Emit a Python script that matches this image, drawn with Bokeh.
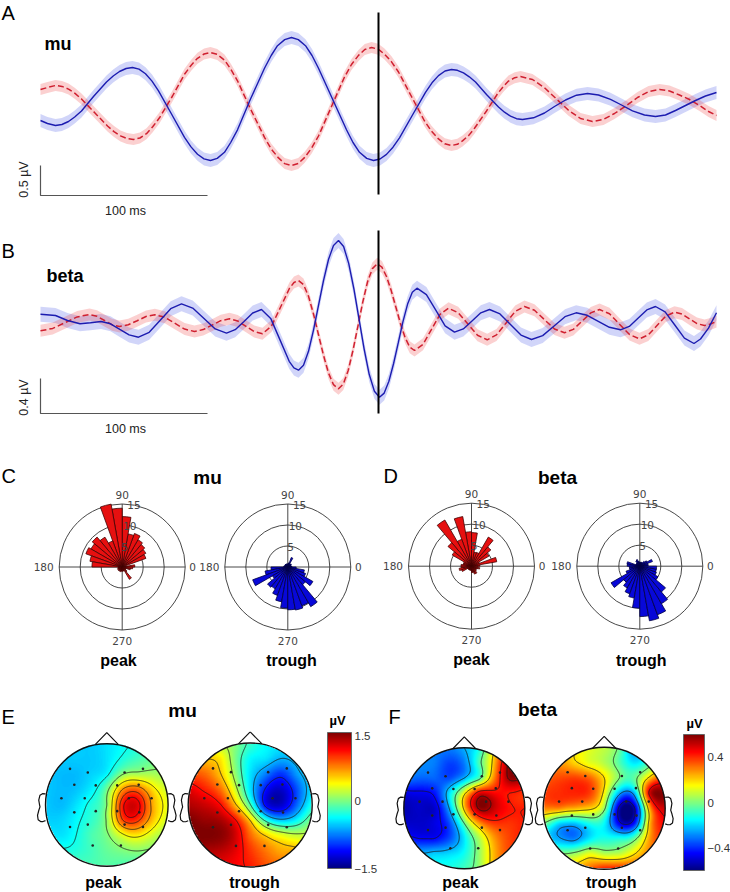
import numpy as np
from bokeh.plotting import figure
from bokeh.layouts import column, row
from bokeh.models import Range1d, LinearColorMapper, ColorBar, FixedTicker
from bokeh.core.properties import value
from bokeh.embed import file_html
from bokeh.resources import INLINE

# ---------- waveform traces ----------
# time: scale-bar units before/after the event line (167 units = 100 ms)
# amplitude: scale-bar units (mu: 30 units = 0.5 uV, beta: 35 units = 0.4 uV)
mu_blue_t = [-338,-331,-323,-316.6,-310,-303.8,-297,-285,-272,-265.3,-259,-252.4,-246,-239.5,-233,-226.5,-220,-207,-194,-187.5,-181,-174.5,-168,-161.3,-154,-147.8,-141,-128,-114,-107.3,-101,-93.8,-87,-80.2,-73,-66.5,-60,-46,-32,-25.5,-19,-11.8,-5,1.5,8,14.5,21,34,47,53.5,60,66.5,73,78.9,85,90.8,97,108,120,126,132,138,144,155,166,176,187,198,209,220,232,243,254,266,277,287,297,307,317,327,338]
mu_blue_a = [-15,-18,-20,-19,-16,-11.5,-5.5,9,23.5,29.5,34,37,38,36.4,31.8,24.4,14.7,-8.5,-31.8,-41.4,-48.8,-53.4,-55,-52.9,-46.8,-37,-24.3,6.5,37.2,50,59.8,65.9,68,65.9,59.8,50,37.2,6.5,-24.3,-37,-46.8,-52.9,-55,-53.5,-48.9,-41.7,-32.3,-9.5,13.2,22.7,29.9,34.5,36,35.2,32.6,28.7,23.5,11,-1.5,-6.7,-10.7,-13.2,-14,-12.3,-7.5,-1,5.5,10.3,12,10.5,6.2,.5,-5.3,-9.5,-11,-9.5,-5,0,5,9.5,13]
mu_red_t = [-338,-331,-323,-316.5,-310,-303.5,-297,-284,-271,-264.5,-258,-251.5,-245,-238.6,-232,-225.8,-219,-206,-194,-187.3,-181,-174.4,-168,-161.3,-154,-147.8,-141,-128,-114,-107.3,-100,-93.8,-87,-80.3,-74,-67,-60,-47,-34,-27,-20,-13.7,-7,-.3,6,13,20,33,46,53,60,66.3,73,78.8,84,90.3,96,108,119,124.8,130,136.3,142,154,166,178,190,202,214,225,236,248,259,270,281,291,301,311,321,330,338]
mu_red_a = [16,18,20,19.1,16.4,12.1,6.5,-7,-20.5,-26.1,-30.4,-33.1,-34,-32.5,-28.2,-21.3,-12.3,9.5,31.2,40.3,47.2,51.5,53,51.1,45.4,36.5,24.7,-3.5,-31.8,-43.5,-52.4,-58.1,-60,-58,-52.1,-42.8,-30.5,-1,28.5,41,50.1,56,58,56.3,51.4,43.7,33.5,9,-15.5,-25.7,-33.4,-38.3,-40,-38.8,-35.4,-29.9,-22.8,-5.5,11.7,19,24.4,27.8,29,26,17.7,6.5,-4.8,-13,-16,-13.9,-8,0,8,13.9,16,14.5,10.5,6,0,-6,-10]
beta_blue_t = [-338,-323,-311,-298.5,-288,-277.4,-268,-258.7,-249.4,-240,-229.3,-218.5,-207.8,-197,-185.8,-174.5,-163.3,-152,-143.3,-134.5,-125.8,-117,-107.8,-98.5,-89.3,-84.6,-80,-75,-70,-65,-60,-55,-50,-45,-40,-34.9,-29.8,-24.6,-19.5,-14.4,-9.3,-4.1,1,5.7,10.4,15.1,19.8,24.4,29.1,33.8,38.5,47.9,57.3,66.6,76,84.8,93.5,102.3,111,121.5,132,142.5,153,164.2,175.3,186.5,197.6,208.7,219.8,230.9,242,250.8,259.5,268.3,277,286.6,296.3,305.9,315.5,322,330,338]
beta_blue_a = [8.3,7,2,-1.3,-.2,1,-1.3,-6.9,-12.4,-14.7,-9.8,2,13.8,18.7,14.4,4,-6.4,-10.7,-7.2,1.1,9.5,13,4.1,-17.4,-38.8,-45.4,-47.7,-42.8,-28.8,-7.6,17.1,41.9,63,77.1,82,76,59.1,33.6,3.6,-26.3,-51.8,-68.7,-74.7,-70.6,-58.8,-41,-20.2,.6,18.4,30.2,34.3,27.9,12.3,-3.3,-9.7,-6.4,1.6,9.7,13,8.6,-2,-12.6,-17,-13.1,-3.7,5.8,9.7,7.2,1.2,-4.8,-7.3,-3.9,4.3,12.6,16,10.6,-2.5,-15.6,-21,-16.5,-5.6,9.7]
beta_red_t = [-338,-325.8,-313.5,-301.3,-289,-281.5,-274,-266.5,-259,-250.2,-241.3,-232.5,-223.6,-213.7,-203.8,-193.9,-184,-175.3,-166.5,-157.8,-149,-140.8,-132.5,-124.3,-116,-107,-98,-89,-84.5,-80,-75,-70,-65,-60,-55,-50,-45,-40,-35.2,-30.3,-25.5,-20.6,-15.8,-11,-6.1,-1.3,3.4,8,12.7,17.4,22,26.7,31.3,36,44.5,53,61.5,70,79.7,89.4,99,108.7,118,127.4,136.7,146,156,166,176,186,194.8,203.5,212.3,221,231,241,251,261,269.8,278.5,287.3,296,303.5,311,318.5,326,332,338]
beta_red_a = [-8.3,-5.9,-.2,5.6,8,6.2,2,-2.2,-4,-2.3,1.8,6,7.7,5.3,-.7,-6.6,-9,-7.1,-2.7,1.8,3.7,1.5,-3.8,-9.1,-11.3,-3.5,15.3,34.2,40,42,37.9,26.2,8.5,-12.2,-32.8,-50.5,-62.2,-66.3,-61.5,-48,-27.7,-3.8,20.1,40.5,53.9,58.7,55.4,46,31.9,15.3,-1.2,-15.3,-24.7,-28,-21.8,-6.9,8.1,14.3,9.7,-1.5,-12.7,-17.3,-12.4,-.7,11.1,16,12.2,2.8,-6.5,-10.3,-6.9,1.3,9.6,13,8.7,-1.7,-12,-16.3,-12.4,-3,6.4,10.3,8.4,3.6,-1.1,-3,-1.5,1]
mu_sem = {"blue": 6.5, "red": 5.5}
beta_sem = {"blue": 7.5, "red": 6.0}

# ---------- phase histograms: counts in 10 degree bins (5, 15, ... 355 deg) ----------
bin_start_deg = list(range(0, 360, 10))
mu_peak_counts = [3,.7,6,6.5,7,7.5,8.5,8,12,14,15.2,6.6,8.2,9.3,8.6,9.2,7.8,7.2,1,1,1.2,1,1.2,1,1.2,1,1,1,1,.8,3.4,1.5,1,1,2,2.5]
mu_trough_counts = [1,.8,.8,1,1,.8,2.4,1,.8,.7,.7,.8,.8,.8,.8,.8,.8,1,4,5.5,8.9,4.2,6.3,6,7.2,8.4,9.8,10.2,10.4,9.8,10.9,5.5,6.9,4.5,4,2]
beta_peak_counts = [2,6.1,2,4.8,6,8,3.5,3.4,8,8.2,12,6.8,12.7,7.3,5.3,2,2,2.5,2.5,3,2.5,1,1,1,1,1,1,1.5,1.5,2,2,1.5,1.2,1.5,2,1.5]
beta_trough_counts = [2,2,3.2,2,1.5,1,1,1,.8,1,1.2,1.7,1.5,1,1,1,3.1,3,2.5,2.5,3.5,7.9,5,6,7,7.7,10,12,13.2,12.3,10.3,8,5,4.2,4,4]
ring_counts = [5, 10, 15]

# ---------- scalp maps: fraction of the colour limit on a 9 x 9 grid,
# rows from front of head to back, columns from left to right ----------
mu_limit = 1.5
beta_limit = 0.6
mu_peak_map = [
 [-.35,-.35,-.35,-.35,-.30,-.25,-.20,-.15,-.10],
 [-.35,-.35,-.35,-.35,-.30,-.20,-.12,-.05,.00],
 [-.35,-.38,-.38,-.33,-.25,.02,.08,.08,.05],
 [-.35,-.38,-.36,-.27,-.02,.45,.55,.30,.15],
 [-.35,-.38,-.30,-.18,.03,.70,.80,.40,.20],
 [-.33,-.33,-.25,-.15,.05,.60,.65,.35,.15],
 [-.25,-.30,-.22,-.10,.00,.20,.28,.15,.05],
 [-.15,-.20,-.18,-.12,-.05,.00,.03,.00,-.05],
 [-.10,-.10,-.10,-.10,-.08,-.10,-.12,-.15,-.15]]
mu_trough_map = [
 [.20,.15,.10,.00,-.15,-.25,-.30,-.30,-.25],
 [.40,.35,.30,.00,-.25,-.30,-.40,-.35,-.30],
 [.60,.55,.38,.05,-.30,-.50,-.65,-.45,-.30],
 [.80,.70,.55,.18,-.30,-.72,-.85,-.60,-.30],
 [.90,.85,.75,.40,-.10,-.75,-.85,-.55,-.20],
 [1.0,.95,.92,.75,.35,-.15,-.35,-.25,.00],
 [1.0,1.0,.98,.85,.55,.35,.22,.15,.15],
 [.90,.90,.88,.80,.65,.52,.42,.40,.30],
 [.80,.80,.80,.75,.70,.60,.55,.50,.45]]
beta_peak_map = [
 [-.50,-.50,-.50,-.50,-.40,-.20,.30,.70,.80],
 [-.45,-.48,-.50,-.62,-.50,-.10,.40,.95,.90],
 [-.50,-.55,-.55,-.60,-.40,-.10,.50,.95,.90],
 [-.80,-.78,-.72,-.30,.25,.80,.75,.70,.65],
 [-.90,-.85,-.85,-.40,.35,.95,.85,.72,.70],
 [-.85,-.85,-.80,-.60,-.05,.45,.65,.65,.70],
 [-.70,-.75,-.75,-.60,-.28,.10,.45,.62,.70],
 [-.45,-.40,-.35,-.32,-.22,.05,.40,.60,.60],
 [-.30,-.30,-.25,-.20,-.12,.05,.40,.50,.50]]
beta_trough_map = [
 [.30,.35,.30,.20,.12,-.05,-.50,-.35,-.20],
 [.45,.45,.33,.20,.10,-.10,-.30,-.10,.10],
 [.55,.60,.62,.55,.30,.00,-.05,.35,.60],
 [.62,.66,.68,.64,.25,-.40,-.35,.85,.95],
 [.50,.50,.42,.35,.05,-.90,-.85,.45,.85],
 [.00,-.30,-.35,-.20,-.25,-.80,-.70,.40,.75],
 [-.30,-.42,-.50,-.30,-.20,-.20,-.05,.45,.70],
 [-.10,.00,.05,.20,.10,.12,.30,.50,.65],
 [.30,.35,.40,.55,.70,.70,.65,.60,.60]]
mu_peak_levels = [-.22,.03,.25,.45,.62,.75]
mu_trough_levels = [-.7,-.4,-.12,.1,.35,.72]
beta_peak_levels = [-.75,-.4,-.05,.3,.7,.92]
beta_trough_levels = [-.85,-.45,.0,.3,.78]
electrode_x = [-.6,-.31,.29,.59,-.53,-.18,.17,.52,-.74,-.36,.36,.73,-.53,-.18,.17,.53,-.6,-.31,.29,.59,-.23,.23]
electrode_y = [.59,.53,.53,.59,.33,.32,.32,.33,.11,.11,.11,.11,-.12,-.1,-.1,-.12,-.36,-.32,-.32,-.36,-.66,-.66]

FONT = "Liberation Sans"
HEAD = "#111111"

def panel(left, top, right, bottom, cx, cy, sx, sy):
    """Figure covering the given page box, with data 0,0 at page point cx,cy."""
    p = figure(width=right-left, height=bottom-top, output_backend="svg", toolbar_location=None,
               x_axis_type=None, y_axis_type=None, min_border=0,
               x_range=Range1d((left-cx)/sx, (right-cx)/sx),
               y_range=Range1d((cy-bottom)/sy, (cy-top)/sy))
    p.outline_line_color = None
    p.grid.visible = False
    p.background_fill_color = None
    p.border_fill_color = None
    return p

class Box:
    def __init__(self, left, top, right, bottom, cx=0, cy=0, sx=1.0, sy=1.0):
        self.p = panel(left, top, right, bottom, cx, cy, sx, sy)
        self.cx, self.cy, self.sx, self.sy = cx, cy, sx, sy
    def X(self, px):
        return (px - self.cx) / self.sx
    def Y(self, py):
        return (self.cy - py) / self.sy
    def txt(self, px, py, s, size=12, bold=False, color="#000000", angle=0, font=FONT, align="center"):
        self.p.text([self.X(px)], [self.Y(py)], text=[s], text_font=value(font),
                    text_font_size=f"{size}px", text_font_style="bold" if bold else "normal",
                    text_color=color, text_align=align, text_baseline="middle", angle=angle)

# ---------- A / B waveforms ----------
def wave(box, series, sems, name, letter, letter_y, name_y, name_x, bar_x, bar_top, bar_bottom, bar_label, line_top, line_bottom, ms_y, uv_y, ms_unit, uv_unit):
    p = box.p
    draw = [("blue", "#3f4fe6", 0.24), ("red", "#ee2a2a", 0.22)]
    for key, col, alpha in draw:
        t = np.array(series[key][0]) * ms_unit
        a = np.array(series[key][1]) * uv_unit
        p.varea(t, a - sems[key]*uv_unit, a + sems[key]*uv_unit, fill_color=col, fill_alpha=alpha)
    t = np.array(series["red"][0]) * ms_unit
    p.line(t, np.array(series["red"][1]) * uv_unit, line_color="#cf2030", line_width=1.5, line_dash="6 3")
    t = np.array(series["blue"][0]) * ms_unit
    p.line(t, np.array(series["blue"][1]) * uv_unit, line_color="#1c1cb0", line_width=1.4)
    p.line([box.X(bar_x), box.X(bar_x), box.X(207)], [box.Y(bar_top), box.Y(bar_bottom), box.Y(bar_bottom)],
           line_color="#555555", line_width=1.2)
    p.line([0, 0], [box.Y(line_top), box.Y(line_bottom)], line_color="#000000", line_width=2)
    box.txt(1, letter_y, letter, size=20, align="left")
    box.txt(name_x, name_y, name, size=18, bold=True, align="left")
    box.txt(125, ms_y, "100 ms", size=12.5, color="#222222")
    box.txt(23, uv_y, bar_label, size=12.5, color="#222222", angle=np.pi/2)

box_a = Box(0, 0, 730, 228, cx=378, cy=105, sx=1.67, sy=60.0)
wave(box_a, {"blue": (mu_blue_t, mu_blue_a), "red": (mu_red_t, mu_red_a)}, mu_sem, "mu", "A", 12, 43, 44,
     40, 165, 195, "0.5 µV", 12, 194, 210, 179, 100/167, 0.5/30)
box_b = Box(0, 228, 730, 450, cx=378, cy=322, sx=1.67, sy=87.5)
wave(box_b, {"blue": (beta_blue_t, beta_blue_a), "red": (beta_red_t, beta_red_a)}, beta_sem, "beta", "B", 250, 275, 46,
     40, 378, 413, "0.4 µV", 230, 413, 428, 397, 100/167, 0.4/35)

# ---------- C / D headers ----------
head_cd = Box(0, 450, 730, 488)
head_cd.txt(1, 475, "C", size=20, align="left")
head_cd.txt(207, 476.5, "mu", size=19, bold=True)
head_cd.txt(383, 475, "D", size=20, align="left")
head_cd.txt(557, 476.5, "beta", size=19, bold=True)

# ---------- C / D rose plots ----------
def rose(left, right, cx, cy, counts, fill, edge, word, word_x, word_y):
    scale = 63/15
    b = Box(left, 488, right, 676, cx=cx, cy=cy, sx=scale, sy=scale)
    p = b.p
    p.circle(x=[0]*3, y=[0]*3, radius=ring_counts, fill_color=None, line_color="#333333", line_width=0.9)
    p.segment([-15, 0], [0, -15], [15, 0], [0, 15], line_color="#333333", line_width=0.9)
    p.wedge(x=[0]*36, y=[0]*36, radius=counts, start_angle=bin_start_deg,
            end_angle=[a+10 for a in bin_start_deg], start_angle_units="deg", end_angle_units="deg",
            fill_color=fill, line_color=edge, line_width=0.8)
    lab = dict(size=10.5, color="#444444", font="DejaVu Sans")
    for r, dx in zip(ring_counts, (0.64, 1.8, 2.8)):
        p.text([dx], [r-0.2], text=[str(r)], text_font=value("DejaVu Sans"), text_font_size="10.5px",
               text_color="#444444", text_align="center", text_baseline="middle")
    b.txt(cx, cy-72.5, "90", **lab)
    b.txt(cx, cy+74, "270", **lab)
    b.txt(cx-78.5, cy, "180", **lab)
    b.txt(cx+70.5, cy, "0", **lab)
    b.txt(word_x, word_y, word, size=16, bold=True)
    return p

rose_row = row(
    rose(0, 197, 121.7, 566.5, mu_peak_counts, "#e61010", "#400303", "peak", 118, 660),
    rose(197, 381, 287.3, 566.5, mu_trough_counts, "#0808d8", "#000040", "trough", 291, 660),
    rose(381, 549, 471, 565.7, beta_peak_counts, "#e61010", "#400303", "peak", 471, 659),
    rose(549, 730, 639.3, 565.7, beta_trough_counts, "#0808d8", "#000040", "trough", 640.7, 660),
)

# ---------- E / F headers ----------
head_ef = Box(0, 676, 730, 731)
head_ef.txt(1, 716, "E", size=20, align="left")
head_ef.txt(182, 710, "mu", size=19, bold=True)
head_ef.txt(337, 720, "µV", size=13, bold=True)
head_ef.txt(388, 716, "F", size=20, align="left")
head_ef.txt(537, 709, "beta", size=19, bold=True)
head_ef.txt(694, 723, "µV", size=13, bold=True)

# ---------- E / F scalp maps ----------
def jet(n=256):
    out = []
    for i in range(n):
        f = i/(n-1)
        r = np.clip(min(4*f-1.5, 4.5-4*f), 0, 1)
        g = np.clip(min(4*f-0.5, 3.5-4*f), 0, 1)
        b = np.clip(min(4*f+0.5, 2.5-4*f), 0, 1)
        out.append("#%02x%02x%02x" % (int(r*255), int(g*255), int(b*255)))
    return out
PALETTE = jet()

def surface(grid, limit, n=244):
    knots = np.linspace(-1, 1, 9)
    kx, ky = np.meshgrid(knots, knots[::-1])
    kx, ky, kv = kx.ravel(), ky.ravel(), np.array(grid, float).ravel()*limit
    def green(d):
        out = np.zeros_like(d)
        m = d > 0
        out[m] = d[m]**2*(np.log(d[m])-1)
        return out
    G = green(np.hypot(kx[:, None]-kx[None, :], ky[:, None]-ky[None, :]))
    w = np.linalg.solve(G, kv)
    xs = np.linspace(-1, 1, n)
    X, Y = np.meshgrid(xs, xs)
    D = np.hypot(X.ravel()[:, None]-kx[None, :], Y.ravel()[:, None]-ky[None, :])
    Z = (green(D) @ w).reshape(n, n)
    Z[np.hypot(X, Y) > 1] = np.nan
    return xs, Z

ear_x = [1.0,1.05,1.09,1.11,1.1,1.09,1.11,1.13,1.12,1.08,1.04,1.0]
ear_y = [.18,.185,.16,.08,.02,-.03,-.09,-.17,-.24,-.27,-.27,-.255]

def scalp(left, right, cx, cy, R, grid, limit, levels, word, word_x, word_y, bar=None):
    b = Box(left, 731, right, 892, cx=cx, cy=cy, sx=R, sy=R)
    p = b.p
    mapper = LinearColorMapper(palette=PALETTE, low=-limit, high=limit, nan_color="rgba(0,0,0,0)")
    xs, Z = surface(grid, limit)
    p.image(image=[Z], x=-1, y=-1, dw=2, dh=2, color_mapper=mapper)
    p.contour(x=xs, y=xs, z=np.ma.masked_invalid(Z), levels=[v*limit for v in levels],
              line_color="#1a1a1a", line_width=0.8)
    p.scatter(electrode_x, electrode_y, size=2.6, marker="circle", fill_color="#222222", line_color=None)
    p.circle(x=[0], y=[0], radius=[1], fill_color=None, line_color=HEAD, line_width=1.4)
    p.line([-.19, 0, .19], [.985, 1.18, .985], line_color=HEAD, line_width=1.2)
    p.line(ear_x, ear_y, line_color=HEAD, line_width=1.2)
    p.line([-v for v in ear_x], ear_y, line_color=HEAD, line_width=1.2)
    b.txt(word_x, word_y, word, size=16, bold=True)
    if bar:
        cb = ColorBar(color_mapper=mapper, width=bar["w"], height=bar["h"], location=bar["loc"],
                      padding=0, margin=0, ticker=FixedTicker(ticks=bar["ticks"]),
                      major_label_overrides=bar["labels"], major_label_text_font=FONT,
                      major_label_text_font_size="11.5px", major_label_text_color="#333333",
                      major_tick_line_color=None, minor_tick_line_color=None, label_standoff=3,
                      bar_line_color="#666666", border_line_color=None, background_fill_color=None)
        p.add_layout(cb)
    return p

scalp_row = row(
    scalp(0, 177, 106.3, 804.5, 61.3, mu_peak_map, mu_limit, mu_peak_levels, "peak", 103, 881.5),
    scalp(177, 385, 249.7, 804.5, 62, mu_trough_map, mu_limit, mu_trough_levels, "trough", 254, 881.5,
          bar=dict(w=24, h=136, loc=(150, 24), ticks=[-1.5, 0, 1.5], labels={-1.5: "−1.5", 0: "0", 1.5: "1.5"})),
    scalp(385, 533, 463.8, 807.8, 60.5, beta_peak_map, beta_limit, beta_peak_levels, "peak", 460, 881.5),
    scalp(533, 730, 603.7, 807.8, 61, beta_trough_map, beta_limit, beta_trough_levels, "trough", 610.7, 881.5,
          bar=dict(w=21, h=136, loc=(150, 22), ticks=[-0.4, 0, 0.4], labels={-0.4: "−0.4", 0: "0", 0.4: "0.4"})),
)

page = column(box_a.p, box_b.p, head_cd.p, rose_row, head_ef.p, scalp_row)
open("out.html", "w").write(file_html(page, INLINE))
